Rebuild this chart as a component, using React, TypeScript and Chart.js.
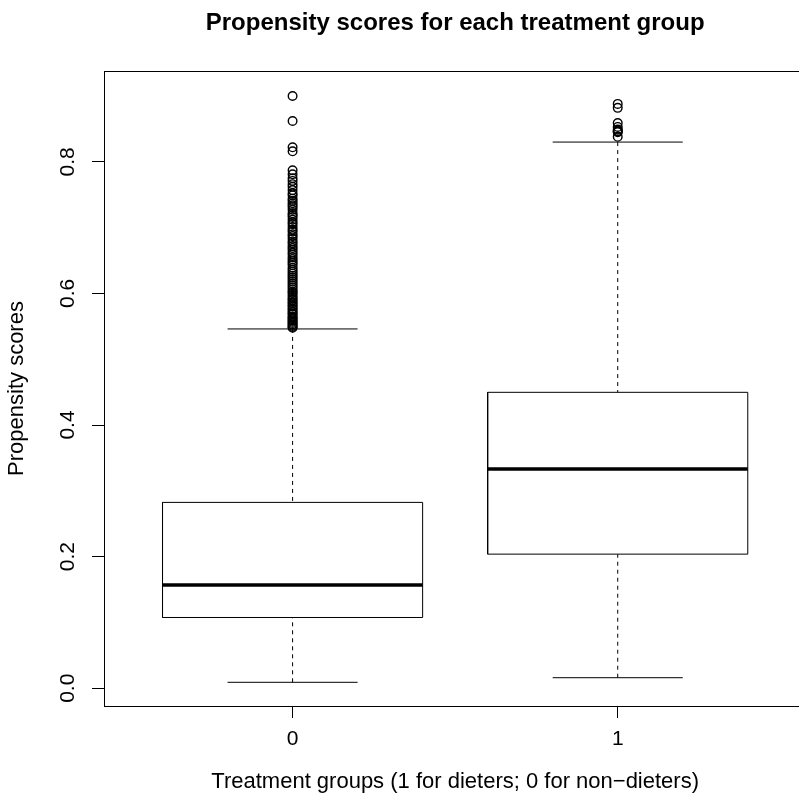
import React, { useEffect, useRef } from "react";
import { Chart, registerables } from "chart.js";

Chart.register(...registerables);

// ---- data ----
const groups = [0, 1];
const groupLabels = ["0", "1"];
const lowerWhisker = [0.009, 0.016];
const q1 = [0.1075, 0.2038];
const medians = [0.157, 0.333];
const q3 = [0.2824, 0.4497];
const upperWhisker = [0.546, 0.83];
const outliers0 = [
  0.9, 0.862, 0.822, 0.816, 0.787, 0.781, 0.775, 0.771, 0.766, 0.762, 0.757,
  0.752, 0.749, 0.744, 0.741, 0.737, 0.734, 0.731, 0.727, 0.722, 0.719, 0.716,
  0.712, 0.708, 0.705, 0.701, 0.697, 0.694, 0.69, 0.687, 0.683, 0.679, 0.676,
  0.672, 0.669, 0.666, 0.662, 0.659, 0.655, 0.652, 0.649, 0.646, 0.643, 0.639,
  0.636, 0.633, 0.63, 0.627, 0.624, 0.621, 0.618, 0.615, 0.612, 0.609, 0.606,
  0.603, 0.601, 0.598, 0.595, 0.592, 0.59, 0.587, 0.585, 0.582, 0.58, 0.577,
  0.575, 0.572, 0.57, 0.568, 0.565, 0.563, 0.561, 0.559, 0.557, 0.555, 0.553,
  0.551, 0.549, 0.548,
];
const outliers1 = [0.888, 0.882, 0.859, 0.853, 0.849, 0.847, 0.846, 0.845, 0.838];
const outliers = [outliers0, outliers1];
const yTicks = [0, 0.2, 0.4, 0.6, 0.8];

const titleText = "Propensity scores for each treatment group";
const xTitle = "Treatment groups (1 for dieters; 0 for non\u2212dieters)";
const yTitle = "Propensity scores";

// ---- geometry (style, not data) ----
const BOX_HALF = 0.4;
const CAP_HALF = 0.2;
const FONT = "'Liberation Sans', Arial, Helvetica, sans-serif";

const framePlugin = {
  id: "frame",
  afterDraw(chart: any) {
    const { ctx, chartArea } = chart;
    ctx.save();
    ctx.strokeStyle = "#000";
    ctx.lineWidth = 1;
    ctx.strokeRect(
      Math.round(chartArea.left) + 0.5,
      Math.round(chartArea.top) + 0.5,
      chartArea.right - chartArea.left,
      chartArea.bottom - chartArea.top
    );
    ctx.restore();
  },
};

function line(points: { x: number; y: number }[], extra: any = {}) {
  return {
    type: "scatter",
    data: points,
    showLine: true,
    borderColor: "#000",
    borderWidth: 1,
    pointRadius: 0,
    fill: false,
    ...extra,
  };
}

export default function App() {
  const ref = useRef<HTMLCanvasElement>(null);

  useEffect(() => {
    if (!ref.current) return;
    const datasets: any[] = [];
    groups.forEach((g, i) => {
      datasets.push(
        line([
          { x: g - BOX_HALF, y: q1[i] },
          { x: g + BOX_HALF, y: q1[i] },
          { x: g + BOX_HALF, y: q3[i] },
          { x: g - BOX_HALF, y: q3[i] },
          { x: g - BOX_HALF, y: q1[i] },
        ])
      );
      datasets.push(
        line(
          [
            { x: g, y: lowerWhisker[i] },
            { x: g, y: q1[i] },
          ],
          { borderDash: [4, 4] }
        )
      );
      datasets.push(
        line(
          [
            { x: g, y: upperWhisker[i] },
            { x: g, y: q3[i] },
          ],
          { borderDash: [4, 4] }
        )
      );
      datasets.push(
        line([
          { x: g - CAP_HALF, y: lowerWhisker[i] },
          { x: g + CAP_HALF, y: lowerWhisker[i] },
        ])
      );
      datasets.push(
        line([
          { x: g - CAP_HALF, y: upperWhisker[i] },
          { x: g + CAP_HALF, y: upperWhisker[i] },
        ])
      );
      datasets.push(
        line(
          [
            { x: g - BOX_HALF, y: medians[i] },
            { x: g + BOX_HALF, y: medians[i] },
          ],
          { borderWidth: 3.5, borderCapStyle: "butt" }
        )
      );
      datasets.push({
        type: "scatter",
        data: outliers[i].map((v) => ({ x: g, y: v })),
        showLine: false,
        pointRadius: 4.3,
        pointStyle: "circle",
        pointBorderColor: "#000",
        pointBackgroundColor: "rgba(0,0,0,0)",
        pointBorderWidth: 1.4,
      });
    });

    const chart = new Chart(ref.current, {
      type: "scatter",
      data: { datasets },
      options: {
        animation: false,
        responsive: false,
        devicePixelRatio: 1,
        layout: { padding: 0 },
        plugins: {
          legend: { display: false },
          tooltip: { enabled: false },
          title: {
            display: true,
            text: titleText,
            fullSize: false,
            color: "#000",
            font: { family: FONT, size: 24, weight: "bold", lineHeight: 1.2 },
            padding: { top: 8.6, bottom: 33.6 },
          },
        },
        scales: {
          x: {
            type: "linear",
            position: "bottom",
            min: -0.58,
            max: 1.58,
            afterBuildTicks: (scale: any) => {
              scale.ticks = groups.map((g) => ({ value: g }));
            },
            afterFit: (scale: any) => {
              scale.height = 96;
            },
            ticks: {
              color: "#000",
              font: { family: FONT, size: 21 },
              padding: 9,
              maxRotation: 0,
              minRotation: 0,
              callback: (v: any) => {
                const idx = groups.indexOf(Number(v));
                return idx >= 0 ? groupLabels[idx] : "";
              },
            },
            grid: {
              display: true,
              drawOnChartArea: false,
              drawTicks: true,
              tickLength: 12,
              color: "#000",
              lineWidth: 1,
            },
            border: { display: false },
            title: {
              display: true,
              text: xTitle,
              color: "#000",
              font: { family: FONT, size: 22, lineHeight: 1.2 },
              padding: { top: 0, bottom: 6.8 },
            },
          },
          y: {
            type: "linear",
            position: "left",
            min: -0.027,
            max: 0.938,
            afterBuildTicks: (scale: any) => {
              scale.ticks = yTicks.map((v) => ({ value: v }));
            },
            afterFit: (scale: any) => {
              scale.width = 104;
            },
            ticks: {
              color: "#000",
              font: { family: FONT, size: 21 },
              padding: 9.4,
              minRotation: 90,
              maxRotation: 90,
              crossAlign: "center",
              callback: (v: any) => Number(v).toFixed(1),
            },
            grid: {
              display: true,
              drawOnChartArea: false,
              drawTicks: true,
              tickLength: 12,
              color: "#000",
              lineWidth: 1,
            },
            border: { display: false },
            title: {
              display: true,
              text: yTitle,
              color: "#000",
              font: { family: FONT, size: 22, lineHeight: 1.2 },
              padding: { top: 3.8, bottom: 0 },
            },
          },
        },
      },
      plugins: [framePlugin],
    } as any);
    return () => chart.destroy();
  }, []);

  return (
    <div
      style={{
        position: "fixed",
        left: 0,
        top: 0,
        width: 799,
        height: 802,
        overflow: "hidden",
        background: "#fff",
      }}
    >
      <canvas ref={ref} width={812} height={802} style={{ display: "block" }} />
    </div>
  );
}
